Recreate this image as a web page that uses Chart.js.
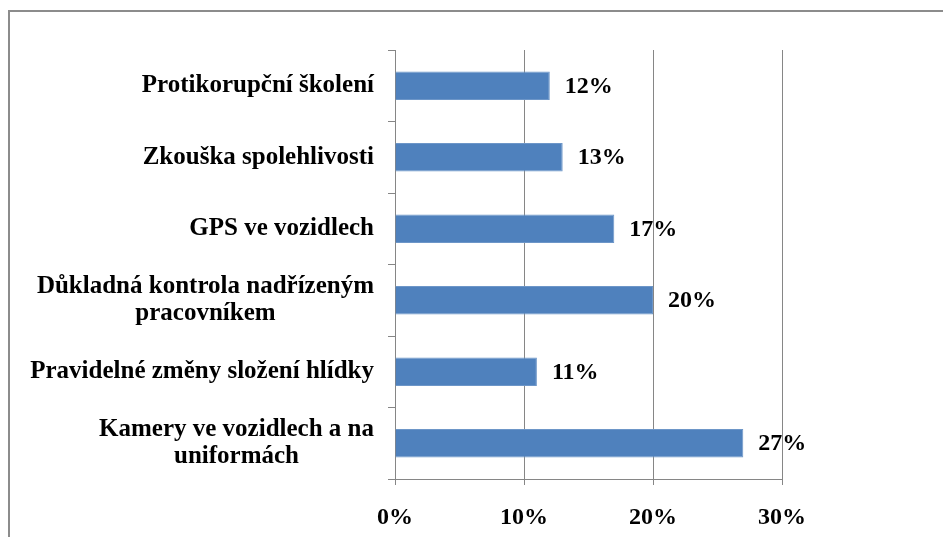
<!DOCTYPE html>
<html>
<head>
<meta charset="utf-8">
<script src="https://cdn.jsdelivr.net/npm/chart.js@4"></script>
<style>
  html, body { margin: 0; padding: 0; background: #fff; }
</style>
</head>
<body>
<canvas id="myBarChart" width="943" height="537"></canvas>
<script>
// data
const categories = [
	["Protikorupční školení"],
	["Zkouška spolehlivosti"],
	["GPS ve vozidlech"],
	["Důkladná kontrola nadřízeným", "pracovníkem"],
	["Pravidelné změny složení hlídky"],
	["Kamery ve vozidlech a na", "uniformách"]
];
const values = [12, 13, 17, 20, 11, 27];
const xMin = 0, xMax = 30, xStep = 10;

const LABEL_FONT = "bold 25px 'Liberation Serif'";
const VALUE_FONT = "bold 24px 'Liberation Serif'";
const gray = '#868686';

// frame around the chart (right and bottom edges are cut off)
const framePlugin = {
	id: 'frame',
	beforeDraw(chart) {
		const ctx = chart.ctx;
		ctx.save();
		ctx.strokeStyle = '#8c8c8c';
		ctx.lineWidth = 2;
		ctx.beginPath();
		ctx.moveTo(9, chart.height);
		ctx.lineTo(9, 11);
		ctx.lineTo(chart.width, 11);
		ctx.stroke();
		ctx.restore();
	}
};

// category labels: lines centered inside a block, block right aligned to the axis
const yLabelPlugin = {
	id: 'yLabels',
	afterDraw(chart) {
		const ctx = chart.ctx;
		const y = chart.scales.y;
		ctx.save();
		ctx.font = LABEL_FONT;
		ctx.fillStyle = '#000';
		ctx.textAlign = 'center';
		ctx.textBaseline = 'middle';
		const lineH = 27;
		categories.forEach((lines, i) => {
			const yc = y.getPixelForValue(i);
			const w = Math.max(...lines.map(l => ctx.measureText(l).width));
			const cx = y.right - 21 - w / 2;
			const start = yc - (lines.length - 1) * lineH / 2;
			lines.forEach((l, k) => ctx.fillText(l, cx, start + k * lineH));
		});
		ctx.restore();
	}
};

// value labels at the end of each bar
const valueLabelPlugin = {
	id: 'valueLabels',
	afterDatasetsDraw(chart) {
		const ctx = chart.ctx;
		const meta = chart.getDatasetMeta(0);
		ctx.save();
		ctx.font = VALUE_FONT;
		ctx.fillStyle = '#000';
		ctx.textAlign = 'left';
		ctx.textBaseline = 'middle';
		meta.data.forEach((bar, i) => {
			ctx.fillText(values[i] + '%', bar.x + 15, bar.y + 1);
		});
		ctx.restore();
	}
};

var ctx = document.getElementById('myBarChart').getContext('2d');
var myChart = new Chart(ctx, {
	type: 'bar',
	data: {
		labels: categories,
		datasets: [{
			data: values,
			backgroundColor: '#4f81bd',
			borderColor: '#6d96c8',
			borderWidth: 1,
			barPercentage: 0.4,
			categoryPercentage: 1
		}]
	},
	options: {
		indexAxis: 'y',
		responsive: false,
		animation: false,
		layout: {
			padding: { top: 50, right: 161, bottom: 0, left: 0 }
		},
		scales: {
			x: {
				min: xMin,
				max: xMax,
				afterFit: s => { s.height = 58; },
				ticks: {
					stepSize: xStep,
					callback: v => v + '%',
					color: '#000',
					font: { family: 'Liberation Serif', size: 24, weight: 'bold' },
					padding: 18,
					maxRotation: 0
				},
				grid: { color: gray, lineWidth: 1, tickLength: 6 },
				border: { color: gray }
			},
			y: {
				afterFit: s => { s.width = 395; },
				ticks: { display: false },
				grid: { drawOnChartArea: false, color: gray, tickLength: 7, offset: true },
				border: { color: gray }
			}
		},
		plugins: {
			legend: { display: false },
			tooltip: { enabled: false },
			title: { display: false }
		}
	},
	plugins: [framePlugin, yLabelPlugin, valueLabelPlugin]
});
</script>
</body>
</html>
